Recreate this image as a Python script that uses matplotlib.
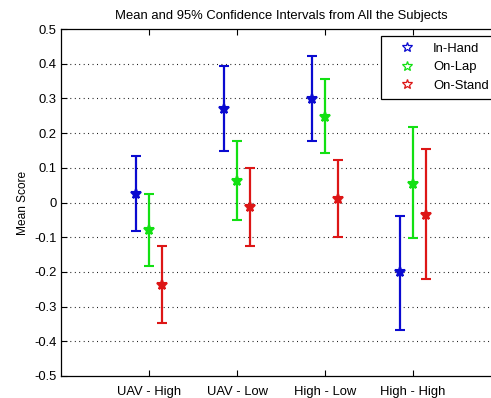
import matplotlib.pyplot as plt
from matplotlib.lines import Line2D
import numpy as np

plt.rcParams['font.family'] = ['Liberation Sans', 'DejaVu Sans']

# conditions on the x axis
conditions = ['UAV - High', 'UAV - Low', 'High - Low', 'High - High']
groups = ['In-Hand', 'On-Lap', 'On-Stand']
colors = ['#0a0ad0', '#12e012', '#dd1616']

# mean score and 95% CI bounds per group, one entry per condition
hand_mean = [0.025, 0.269, 0.299, -0.201]
hand_low = [-0.081, 0.148, 0.178, -0.368]
hand_high = [0.134, 0.394, 0.423, -0.038]

lap_mean = [-0.079, 0.062, 0.247, 0.053]
lap_low = [-0.183, -0.051, 0.142, -0.103]
lap_high = [0.024, 0.177, 0.356, 0.217]

stand_mean = [-0.237, -0.012, 0.010, -0.035]
stand_low = [-0.346, -0.124, -0.100, -0.221]
stand_high = [-0.125, 0.100, 0.122, 0.153]

means = [hand_mean, lap_mean, stand_mean]
lows = [hand_low, lap_low, stand_low]
highs = [hand_high, lap_high, stand_high]
offsets = [-0.15, 0.0, 0.15]

W, H = 491, 398
fig = plt.figure(figsize=(W/100., H/100.), dpi=100)
# axes runs past the right edge of the figure
ax = fig.add_axes([61./W, 22./H, 440./W, 347./H])

x = np.arange(1, len(conditions)+1)
for m, lo, hi, off, c in zip(means, lows, highs, offsets, colors):
	m = np.array(m)
	err = np.vstack([m - np.array(lo), np.array(hi) - m])
	ax.errorbar(x + off, m, yerr=err, fmt='*', color=c, ecolor=c,
		elinewidth=1.6, capsize=3.5, capthick=1.6,
		markersize=7.5, markeredgewidth=1.5, zorder=3)

ax.set_xlim(0, 5)
ax.set_ylim(-0.5, 0.5)
ax.set_xticks(x)
ax.set_xticklabels(conditions)
yt = np.round(np.arange(-0.5, 0.51, 0.1), 1)
ax.set_yticks(yt)
ax.set_yticklabels(['0' if v == 0 else ('%g' % v) for v in yt])

for v in yt[1:-1]:
	ax.axhline(v, color='black', lw=0.8, ls=(0, (0.8, 3.2)), zorder=1)

ax.spines['right'].set_visible(False)
ax.tick_params(direction='in', length=4, width=0.8, labelsize=9.4, top=True, right=False)
ax.tick_params(axis='x', pad=7)
ax.tick_params(axis='y', pad=3)
for s in ax.spines.values():
	s.set_linewidth(0.9)

ax.set_ylabel('Mean Score', fontsize=8.6, labelpad=4)
ax.set_title('Mean and 95% Confidence Intervals from All the Subjects', fontsize=9.4, pad=7)

handles = [Line2D([], [], ls='none', marker='*', markersize=7, markerfacecolor='none',
	markeredgecolor=c, markeredgewidth=0.9) for c in colors]
# legend box is wider than the figure, so its right side is cut off
leg = ax.legend(handles, groups, loc='upper left',
	bbox_to_anchor=(381./W, 1-97./H, 125./W, 61./H), mode='expand',
	bbox_transform=fig.transFigure, borderaxespad=0, fontsize=9.4, frameon=True,
	fancybox=False, edgecolor='black', framealpha=1, handlelength=3.0,
	handletextpad=0.5, borderpad=0.5, labelspacing=0.5)
leg.get_frame().set_linewidth(0.9)

fig.savefig('out.png', dpi=100)
